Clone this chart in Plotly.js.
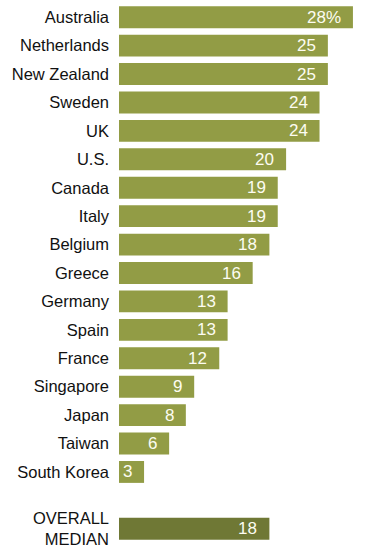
<!DOCTYPE html>
<html><head><meta charset="utf-8">
<script src="https://cdn.plot.ly/plotly-3.0.1.min.js"></script>
<style>html,body{margin:0;padding:0;background:#fff}#c{width:381px;height:554px}</style>
</head><body><div id="c"></div>
<script>
var countries = ["Australia","Netherlands","New Zealand","Sweden","UK","U.S.","Canada","Italy","Belgium","Greece","Germany","Spain","France","Singapore","Japan","Taiwan","South Korea"];
var values = [28,25,25,24,24,20,19,19,18,16,13,13,12,9,8,6,3];
var valueLabels = ["28%","25","25","24","24","20","19","19","18","16","13","13","12","9","8","6","3"];
var medianLabel = "OVERALL<br>MEDIAN";
var medianValue = 18;

var pos = countries.map(function(_, i){ return i; });
var medianPos = countries.length + 1;

var traces = [
  {type:'bar', orientation:'h', y:pos, x:values, marker:{color:'#929c45'}, hoverinfo:'none', width:0.77},
  {type:'bar', orientation:'h', y:[medianPos], x:[medianValue], marker:{color:'#6f7835'}, hoverinfo:'none', width:0.77}
];

var vfont = {family:'Liberation Sans, Arial, sans-serif', size:17, color:'#fdfcf2'};
var annotations = values.map(function(v, i){
  return {x:v, y:pos[i], xref:'x', yref:'y', text:valueLabels[i], showarrow:false, xanchor:'right', xshift:-10, font:vfont};
});
annotations.push({x:medianValue, y:medianPos, xref:'x', yref:'y', text:String(medianValue), showarrow:false, xanchor:'right', xshift:-10, font:vfont});

var layout = {
  width:381, height:554,
  margin:{l:119, r:3, t:3, b:11},
  paper_bgcolor:'#ffffff', plot_bgcolor:'#ffffff',
  showlegend:false, barmode:'overlay',
  xaxis:{range:[0,31], visible:false, fixedrange:true},
  yaxis:{range:[18.5,-0.5], tickmode:'array', tickvals:pos.concat([medianPos]), ticktext:countries.concat([medianLabel]),
    showgrid:false, zeroline:false, showline:false, ticks:'', ticklabelstandoff:9,
    tickfont:{family:'Liberation Sans, Arial, sans-serif', size:16.5, color:'#111111'}},
  annotations:annotations
};
Plotly.newPlot('c', traces, layout, {displayModeBar:false, staticPlot:true});
</script></body></html>
